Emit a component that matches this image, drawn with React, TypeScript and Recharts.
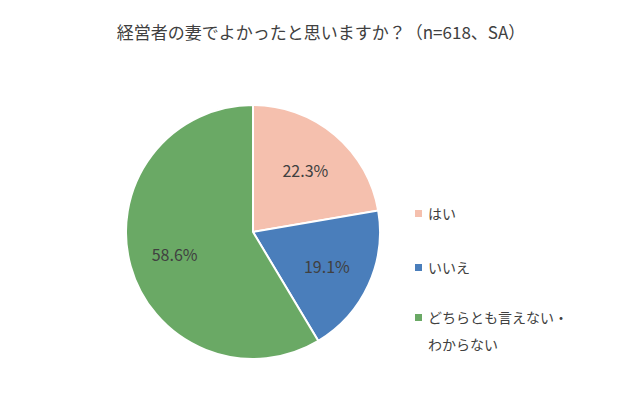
import React from 'react';
import { PieChart, Pie, Cell, Legend } from 'recharts';

const labels = ['はい', 'いいえ', 'どちらとも言えない・わからない'];
const legendLines = [['はい'], ['いいえ'], ['どちらとも言えない・', 'わからない']];
const values = [22.3, 19.1, 58.6];
const colors = ['#F5C0AE', '#4A7EBB', '#6AA965'];

const data = labels.map((name, i) => ({ name, value: values[i] }));

const FONT = '"Noto Sans CJK JP", "Noto Sans", sans-serif';
const RAD = Math.PI / 180;

const renderLabel = (props: any) => {
  const { cx, cy, midAngle, outerRadius, value } = props;
  const r = outerRadius * 0.64;
  const x = cx + r * Math.cos(-midAngle * RAD);
  const y = cy + r * Math.sin(-midAngle * RAD);
  return (
    <text x={x} y={y} fill="#404040" fontSize={16} fontFamily={FONT} textAnchor="middle" dominantBaseline="central">
      {value.toFixed(1)}%
    </text>
  );
};

const renderLegend = () => (
  <div style={{ fontFamily: FONT, fontSize: 14, color: '#404040' }}>
    {legendLines.map((lines, i) => (
      <div key={i} style={{ display: 'flex', alignItems: 'flex-start', marginBottom: i === 0 ? 27 : 23 }}>
        <span style={{ width: 7, height: 7, background: colors[i], marginTop: 10, marginRight: 6, flex: 'none' }} />
        <div style={{ lineHeight: '27px' }}>
          {lines.map((l, j) => (
            <div key={j}>{l}</div>
          ))}
        </div>
      </div>
    ))}
  </div>
);

export default function App() {
  return (
    <div style={{ position: 'fixed', left: 0, top: 0, width: 630, height: 394, background: '#fff' }}>
      <div style={{ position: 'absolute', top: 19, left: 0, width: 642, textAlign: 'center', fontFamily: FONT, fontSize: 17, color: '#404040' }}>
        経営者の妻でよかったと思いますか？（n=618、SA）
      </div>
      <PieChart width={630} height={394}>
        <Pie
          data={data}
          dataKey="value"
          cx={248}
          cy={227}
          outerRadius={127}
          startAngle={90}
          endAngle={-270}
          stroke="#fff"
          strokeWidth={2}
          label={renderLabel}
          labelLine={false}
          isAnimationActive={false}
        >
          {data.map((d, i) => (
            <Cell key={d.name} fill={colors[i]} />
          ))}
        </Pie>
        <Legend
          layout="vertical"
          content={renderLegend}
          wrapperStyle={{ position: 'absolute', left: 415, top: 200, width: 200 }}
        />
      </PieChart>
    </div>
  );
}
